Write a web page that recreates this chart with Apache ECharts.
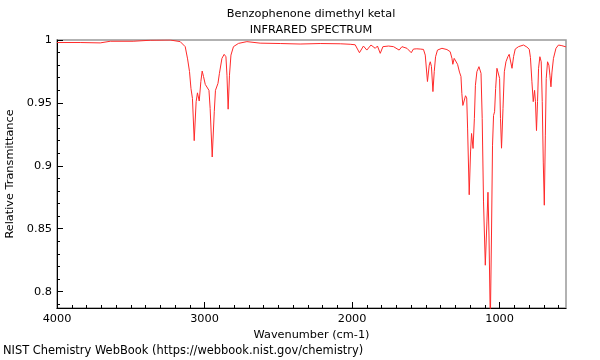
<!DOCTYPE html>
<html><head><meta charset="utf-8">
<script src="https://cdn.jsdelivr.net/npm/echarts@6/dist/echarts.min.js"></script>
<style>html,body{margin:0;padding:0;background:#fff}#c{width:600px;height:360px}</style>
</head><body><div id="c"></div>
<script>
const titleLines = ["Benzophenone dimethyl ketal", "INFRARED SPECTRUM"];
const xAxisName = "Wavenumber (cm-1)";
const yAxisName = "Relative Transmittance";
const footer = "NIST Chemistry WebBook (https://webbook.nist.gov/chemistry)";
const xTickLabels = [1000, 2000, 3000, 4000];
const yTickLabels = [0.8, 0.85, 0.9, 0.95, 1];

const wavenumbers = [4000,3843,3707,3639,3484,3368,3233,3165,3131,3115,3102,3092,3082,3070,3057,3048,3036,3025,3016,3007,2995,2984,2970,2962,2948,2934,2926,2909,2899,2882,2867,2855,2848,2840,2831,2821,2804,2770,2713,2623,2487,2352,2216,2080,2013,1979,1950,1923,1900,1872,1843,1828,1809,1791,1753,1719,1681,1662,1628,1599,1584,1561,1538,1516,1504,1489,1477,1470,1462,1452,1443,1434,1421,1391,1357,1335,1323,1317,1308,1299,1285,1272,1262,1256,1249,1240,1231,1223,1217,1206,1197,1190,1180,1171,1164,1154,1140,1126,1118,1109,1097,1086,1079,1072,1063,1055,1048,1041,1034,1027,1018,1009,1000,994,987,977,968,957,943,935,926,916,905,894,872,838,815,799,791,781,772,763,757,750,743,736,727,718,711,704,697,690,684,675,666,659,652,645,635,618,601,578,555,550];
const transmittance = [0.998,0.998,0.9977,0.999,0.999,0.9998,1.0,0.9987,0.9947,0.985,0.975,0.9615,0.9536,0.920,0.951,0.958,0.9515,0.967,0.9753,0.971,0.9647,0.9655,0.960,0.9456,0.907,0.943,0.960,0.9655,0.9735,0.9854,0.9886,0.9867,0.972,0.945,0.972,0.988,0.9947,0.9973,0.9987,0.9975,0.9972,0.9968,0.9972,0.997,0.9966,0.9962,0.9899,0.9952,0.992,0.996,0.9934,0.9952,0.9894,0.9947,0.9952,0.9947,0.992,0.9947,0.9934,0.9899,0.9928,0.993,0.9928,0.9925,0.988,0.967,0.980,0.9827,0.979,0.959,0.975,0.9867,0.992,0.9934,0.9924,0.9907,0.9854,0.9807,0.9854,0.9867,0.9807,0.9745,0.971,0.9576,0.948,0.9475,0.9557,0.954,0.930,0.877,0.911,0.9257,0.9138,0.9377,0.964,0.9748,0.9788,0.9735,0.9377,0.8713,0.821,0.8554,0.879,0.845,0.775,0.845,0.9164,0.940,0.943,0.9615,0.9775,0.9788,0.9695,0.9377,0.914,0.9456,0.9748,0.9827,0.987,0.9886,0.9833,0.9775,0.987,0.9928,0.9947,0.996,0.9944,0.9926,0.986,0.9668,0.951,0.960,0.951,0.928,0.951,0.9775,0.9867,0.9827,0.951,0.903,0.8687,0.9244,0.9695,0.9827,0.980,0.972,0.9628,0.9745,0.9854,0.9934,0.996,0.9955,0.9947,0.9947];

const X_MIN = 550, X_MAX = 4000, Y_MIN = 0.787, Y_MAX = 1;
const xMinor = []; for (let v = 600; v < 4000; v += 100) if (v % 1000 !== 0) xMinor.push(v);
const yMinor = []; for (let i = 79; i <= 100; i++) { const v = i / 100; if (i % 5 !== 0) yMinor.push(v); }

const FONT = 'DejaVu Sans';
const FS = 11.3;
const chart = echarts.init(document.getElementById('c'), null, {renderer: 'canvas'});
chart.setOption({
  animation: false,
  textStyle: {fontFamily: FONT},
  title: [
    {text: titleLines.join('\n'), left: 311, top: 6, padding: 0, textAlign: 'center',
     textStyle: {fontSize: FS, fontWeight: 'normal', color: '#000', lineHeight: 16, fontFamily: FONT}},
    {text: footer, left: 3, top: 346, padding: 0,
     textStyle: {fontSize: 11.45, fontWeight: 'normal', color: '#000', fontFamily: FONT}}
  ],
  grid: {left: 57, right: 34, top: 40, bottom: 52, outerBoundsMode: 'none', containLabel: false,
         show: true, borderColor: '#999', borderWidth: 1.5, backgroundColor: 'transparent'},
  xAxis: [
    {type: 'value', min: X_MIN, max: X_MAX, inverse: true, position: 'bottom',
     name: xAxisName, nameLocation: 'middle', nameGap: 20,
     nameTextStyle: {fontSize: FS, color: '#000', fontFamily: FONT},
     axisLine: {show: true, lineStyle: {color: '#000', width: 1}},
     axisTick: {show: true, inside: true, length: 6, customValues: xTickLabels, lineStyle: {color: '#000'}},
     axisLabel: {show: true, customValues: xTickLabels, margin: 6, fontSize: FS, color: '#000', fontFamily: FONT,
       formatter: v => String(v)},
     splitLine: {show: false}},
    {type: 'value', min: X_MIN, max: X_MAX, inverse: true, position: 'bottom',
     axisLine: {show: false},
     axisTick: {show: true, inside: true, length: 3, customValues: xMinor, lineStyle: {color: '#000'}},
     axisLabel: {show: false}, splitLine: {show: false}}
  ],
  yAxis: [
    {type: 'value', min: Y_MIN, max: Y_MAX, position: 'left',
     name: yAxisName, nameLocation: 'middle', nameGap: 41, nameRotate: 90,
     nameTextStyle: {fontSize: FS, color: '#000', fontFamily: FONT},
     axisLine: {show: true, lineStyle: {color: '#000', width: 1}},
     axisTick: {show: true, inside: true, length: 6, customValues: yTickLabels, lineStyle: {color: '#000'}},
     axisLabel: {show: true, customValues: yTickLabels, margin: 5, fontSize: FS, color: '#000', fontFamily: FONT,
       formatter: v => String(+v.toFixed(2))},
     splitLine: {show: false}},
    {type: 'value', min: Y_MIN, max: Y_MAX, position: 'left',
     axisLine: {show: false},
     axisTick: {show: true, inside: true, length: 3, customValues: yMinor, lineStyle: {color: '#000'}},
     axisLabel: {show: false}, splitLine: {show: false}}
  ],
  series: [{
    type: 'line', xAxisIndex: 0, yAxisIndex: 0,
    data: wavenumbers.map((w, i) => [w, transmittance[i]]),
    showSymbol: false, symbol: 'none', clip: true,
    lineStyle: {color: '#ff2a2a', width: 1}
  }]
});
</script></body></html>
